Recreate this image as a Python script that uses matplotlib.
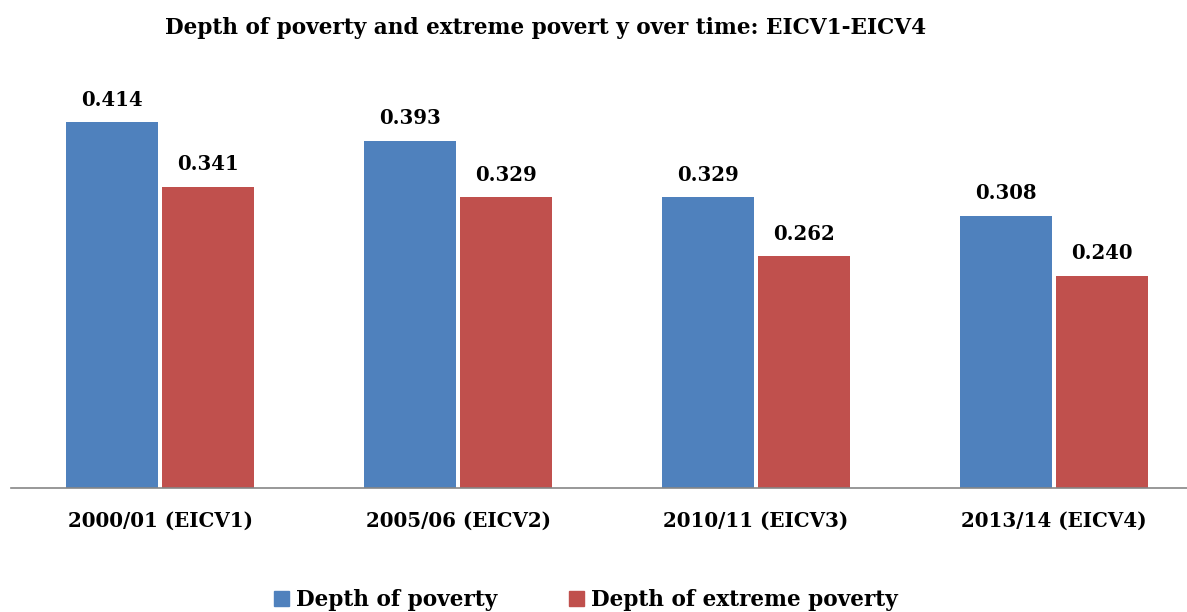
import matplotlib
matplotlib.use("Agg")
import matplotlib.pyplot as plt
import numpy as np
from matplotlib.patches import Patch

categories = ["2000/01 (EICV1)", "2005/06 (EICV2)", "2010/11 (EICV3)", "2013/14 (EICV4)"]
depth_poverty = [0.414, 0.393, 0.329, 0.308]
depth_extreme = [0.341, 0.329, 0.262, 0.240]
series_names = ["Depth of poverty", "Depth of extreme poverty"]
colors = ["#4F81BD", "#C0504D"]

W, H = 1187, 612
fig = plt.figure(figsize=(W / 100, H / 100), dpi=100)
left_px, right_px, base_px, top_px = 11, 1187, 488, 60
ax = fig.add_axes([left_px / W, 1 - base_px / H, (right_px - left_px) / W, (base_px - top_px) / H])

FAM = "DejaVu Serif"
x = np.arange(len(categories))
bw = 0.309
off = 0.161
b1 = ax.bar(x - off, depth_poverty, bw, color=colors[0])
b2 = ax.bar(x + off, depth_extreme, bw, color=colors[1])

for bars, vals in ((b1, depth_poverty), (b2, depth_extreme)):
    for b, v in zip(bars, vals):
        ax.annotate(f"{v:.3f}", (b.get_x() + b.get_width() / 2, v), xytext=(0, 9),
                    textcoords="offset points", ha="center", va="bottom",
                    fontsize=14.2, fontweight="bold", family=FAM)

ax.set_xlim(-0.5, (right_px - left_px) / 298 - 0.5)
ax.set_ylim(0, (base_px - top_px) / 884)
for s in ["top", "right", "left"]:
    ax.spines[s].set_visible(False)
ax.spines["bottom"].set_color("#868686")
ax.spines["bottom"].set_linewidth(1.2)
ax.set_yticks([])
ax.set_xticks(x)
ax.set_xticklabels(categories, fontsize=14.3, fontweight="bold", family=FAM)
ax.tick_params(axis="x", length=0, pad=16.5)

fig.text(546 / W, 1 - 28 / H, "Depth of poverty and extreme povert y over time: EICV1-EICV4",
         ha="center", va="center", fontsize=15.6, fontweight="bold", family=FAM)

handles = [Patch(color=c) for c in colors]
fig.legend(handles, series_names, loc="center", bbox_to_anchor=(586 / W, 1 - 600 / H),
           ncol=2, frameon=False, prop={"family": FAM, "weight": "bold", "size": 15.6},
           handlelength=0.69, handleheight=0.69, handletextpad=0.32, columnspacing=3.3,
           borderpad=0, borderaxespad=0)

fig.savefig("out.png", dpi=100)
